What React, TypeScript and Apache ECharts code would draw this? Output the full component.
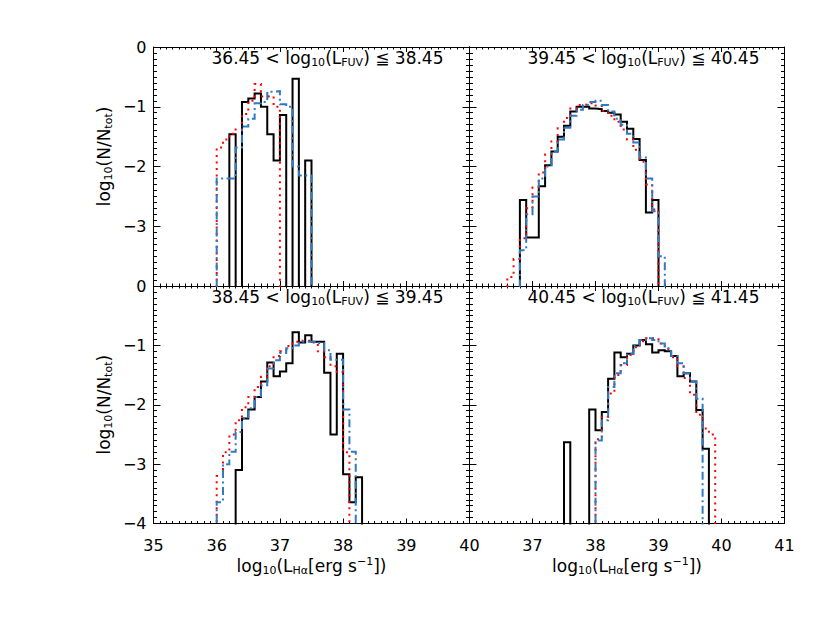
import React, { useEffect, useRef } from 'react';
import * as echarts from 'echarts';

const BIN = 0.1;
const FLOOR = -10; // empty bins (zero counts) fall below the axis

// Panel A (top-left): 36.45 < log10(L_FUV) <= 38.45
const aBlackStart = 36.2;
const aBlack = [-1.46, null, -0.92, -0.86, -0.78, -1.0, -1.46, -1.9, -1.14, null, -0.53, null, -1.9];
const aRedStart = 36.0;
const aRed = [-1.68, -1.55, -1.45, -1.38, -1.12, -0.9, -0.62, -0.83, -0.82, -1.0];
const aBlueStart = 36.0;
const aBlue = [-2.2, -2.2, -2.2, -1.68, -1.33, -1.2, -0.94, -0.92, -0.75, -0.74, -0.96, -1.0, -2.0, -2.15, -2.15];

// Panel B (top-right): 39.45 < log10(L_FUV) <= 40.45
const bBlackStart = 36.8;
const bBlack = [-2.56, -3.19, -3.19, -2.33, -1.98, -1.75, -1.5, -1.32, -1.08, -1.0, -1.0, -1.03, -1.04, -1.07, -1.1, -1.13, -1.25, -1.37, -1.54, -1.89, -2.77, -2.56];
const bRedStart = 36.6;
const bRed = [-3.85, -3.55, -3.2, -2.7, -2.35, -2.1, -1.8, -1.58, -1.36, -1.19, -1.03, -0.97, -0.96, -0.94, -0.98, -1.07, -1.15, -1.25, -1.38, -1.55, -1.72, -1.92, -2.3, -2.72];
const bBlueStart = 36.8;
const bBlue = [-3.4, -2.8, -2.5, -2.2, -2.0, -1.75, -1.55, -1.35, -1.15, -1.05, -0.97, -0.92, -0.9, -0.97, -1.08, -1.2, -1.3, -1.45, -1.6, -1.85, -2.2, -2.75, -3.5];

// Panel C (bottom-left): 38.45 < log10(L_FUV) <= 39.45
const cBlackStart = 36.3;
const cBlack = [-3.1, -2.23, -2.08, -1.87, -1.61, -1.29, -1.52, -1.44, -1.3, -0.78, -0.95, -0.83, -0.94, -0.94, -1.46, -2.5, -1.14, -3.17, -3.64, -3.22];
const cRedStart = 36.0;
const cRed = [-3.2, -2.8, -2.5, -2.26, -2.04, -1.87, -1.7, -1.53, -1.35, -1.18, -1.1, -1.01, -0.94, -0.92, -0.92, -0.95, -1.1, -1.2, -1.35, -1.45, -2.8];
const cBlueStart = 36.0;
const cBlue = [-3.64, -3.0, -2.79, -2.46, -2.23, -2.06, -1.87, -1.67, -1.39, -1.25, -1.13, -1.05, -1.0, -0.94, -0.94, -0.94, -0.96, -1.08, -1.24, -1.24, -2.08, -2.79];

// Panel D (bottom-right): 40.45 < log10(L_FUV) <= 41.45
const dBlackStart = 37.5;
const dBlack = [-2.63, null, null, null, -2.08, -2.43, -2.12, -1.56, -1.12, -1.2, -1.14, -1.0, -0.91, -0.98, -1.12, -1.08, -1.1, -1.18, -1.52, -1.47, -1.61, -2.09, -2.74];
const dRedStart = 38.0;
const dRed = [-2.58, -2.2, -1.81, -1.5, -1.33, -1.16, -1.03, -0.93, -0.88, -0.88, -0.97, -1.06, -1.2, -1.35, -1.55, -1.83, -2.17, -2.4, -2.5];
const dBlueStart = 38.0;
const dBlue = [-2.6, -2.26, -1.7, -1.47, -1.3, -1.14, -1.0, -0.91, -0.88, -0.91, -0.97, -1.05, -1.18, -1.3, -1.47, -1.61, -1.9];

const panelTitles = [
  ['36.45', '38.45'],
  ['39.45', '40.45'],
  ['38.45', '39.45'],
  ['40.45', '41.45'],
];
const xRanges = [[35, 40], [36, 41], [35, 40], [36, 41]];
const yRange = [-4, 0];

const FONT = 'DejaVu Sans';
const BLACK = '#000000';
const RED = '#ff0000';
const BLUE = '#2f7ac2';

function round(v: number) {
  return Math.round(v * 1000) / 1000;
}

function histData(start: number, vals: (number | null)[]) {
  const pts: number[][] = [[start, FLOOR]];
  vals.forEach((v, i) => pts.push([round(start + i * BIN), v == null ? FLOOR : v]));
  const last = vals[vals.length - 1];
  const end = round(start + vals.length * BIN);
  pts.push([end, last == null ? FLOOR : last]);
  pts.push([end, FLOOR]);
  return pts;
}

const rich = {
  m: { fontSize: 17, lineHeight: 20, fontFamily: FONT, fontWeight: 'normal', color: '#000' },
  s: { fontSize: 11, lineHeight: 11, verticalAlign: 'bottom', fontFamily: FONT, fontWeight: 'normal', color: '#000' },
  p: { fontSize: 11, lineHeight: 11, verticalAlign: 'top', fontFamily: FONT, fontWeight: 'normal', color: '#000' },
};

const minus = (v: number) => (v < 0 ? '\u2212' + Math.abs(v) : String(v));

export default function App() {
  const ref = useRef<HTMLDivElement>(null);
  useEffect(() => {
    if (!ref.current) return;
    const chart = echarts.init(ref.current, undefined, { renderer: 'svg' });

    const grids = [
      { left: 153.5, top: 47, width: 316, height: 239 },
      { left: 469.5, top: 47, width: 315, height: 239 },
      { left: 153.5, top: 286, width: 316, height: 237.5 },
      { left: 469.5, top: 286, width: 315, height: 237.5 },
    ];
    const seriesData = [
      [[aBlackStart, aBlack], [aRedStart, aRed], [aBlueStart, aBlue]],
      [[bBlackStart, bBlack], [bRedStart, bRed], [bBlueStart, bBlue]],
      [[cBlackStart, cBlack], [cRedStart, cRed], [cBlueStart, cBlue]],
      [[dBlackStart, dBlack], [dRedStart, dRed], [dBlueStart, dBlue]],
    ] as [number, (number | null)[]][][];
    const styles = [
      { color: BLACK, width: 2, type: 'solid' },
      { color: RED, width: 2, type: [2, 4.5] },
      { color: BLUE, width: 2, type: [8, 3.5, 2, 3.5] },
    ];

    const xName = '{m|log}{s|10}{m|(L}{s|H\u03b1}{m|[erg s}{p|\u22121}{m|])}';
    const yName = '{m|log}{s|10}{m|(N/N}{s|tot}{m|)}';

    const xAxis: any[] = [];
    const yAxis: any[] = [];
    const series: any[] = [];
    const titles: any[] = [];

    grids.forEach((g, i) => {
      const isBottom = i >= 2;
      const isLeft = i % 2 === 0;
      const [xmin, xmax] = xRanges[i];
      const xCommon = {
        type: 'value',
        gridIndex: i,
        min: xmin,
        max: xmax,
        interval: 1,
        axisLine: { show: true, onZero: false, lineStyle: { color: '#000', width: 1 } },
        axisTick: { show: true, inside: true, length: 5, lineStyle: { color: '#000', width: 1 } },
        minorTick: { show: true, splitNumber: 10, length: 2.5, lineStyle: { color: '#000', width: 1 } },
        splitLine: { show: false },
        minorSplitLine: { show: false },
      };
      xAxis.push({
        ...xCommon,
        position: 'bottom',
        axisLabel: {
          show: isBottom,
          margin: 14,
          fontSize: 16,
          fontFamily: FONT,
          color: '#000',
          formatter: (v: number) => (!isLeft && v === xmin ? '' : String(v)),
        },
        name: isBottom ? xName : '',
        nameLocation: 'middle',
        nameGap: 32,
        nameTextStyle: { rich },
      });
      xAxis.push({ ...xCommon, position: 'top', axisLabel: { show: false } });

      const yCommon = {
        type: 'value',
        gridIndex: i,
        min: yRange[0],
        max: yRange[1],
        interval: 1,
        axisLine: { show: true, onZero: false, lineStyle: { color: '#000', width: 1 } },
        axisTick: { show: true, inside: true, length: 7, lineStyle: { color: '#000', width: 1 } },
        minorTick: { show: true, splitNumber: 10, length: 3.5, lineStyle: { color: '#000', width: 1 } },
        splitLine: { show: false },
        minorSplitLine: { show: false },
      };
      yAxis.push({
        ...yCommon,
        position: 'left',
        axisLabel: {
          show: isLeft,
          margin: 7,
          fontSize: 16,
          fontFamily: FONT,
          color: '#000',
          formatter: (v: number) => (!isBottom && v === yRange[0] ? '' : minus(v)),
        },
        name: isLeft ? yName : '',
        nameLocation: 'middle',
        nameGap: 40,
        nameRotate: 90,
        nameTextStyle: { rich, padding: isBottom ? 0 : [0, 0, 0, 20] },
      });
      yAxis.push({ ...yCommon, position: 'right', axisLabel: { show: false } });

      seriesData[i].forEach(([start, vals], k) => {
        series.push({
          type: 'line',
          xAxisIndex: 2 * i,
          yAxisIndex: 2 * i,
          data: histData(start, vals),
          step: 'end',
          showSymbol: false,
          symbol: 'none',
          clip: true,
          silent: true,
          lineStyle: { ...styles[k], cap: 'butt', join: 'miter' },
          z: 2 + k,
        });
      });

      const [lo, hi] = panelTitles[i];
      titles.push({
        text: `{m|${lo} < log}{s|10}{m|(L}{s|FUV}{m|) \u2266 ${hi}}`,
        left: g.left + 58,
        top: g.top + 1,
        padding: 0,
        textStyle: { rich, fontWeight: 'normal' },
      });
    });

    chart.setOption({
      animation: false,
      backgroundColor: '#ffffff',
      title: titles,
      grid: grids,
      xAxis,
      yAxis,
      series,
    });
    return () => chart.dispose();
  }, []);
  return (
    <div
      ref={ref}
      style={{ position: 'fixed', left: 0, top: 0, width: 830, height: 622, background: '#fff' }}
    />
  );
}
